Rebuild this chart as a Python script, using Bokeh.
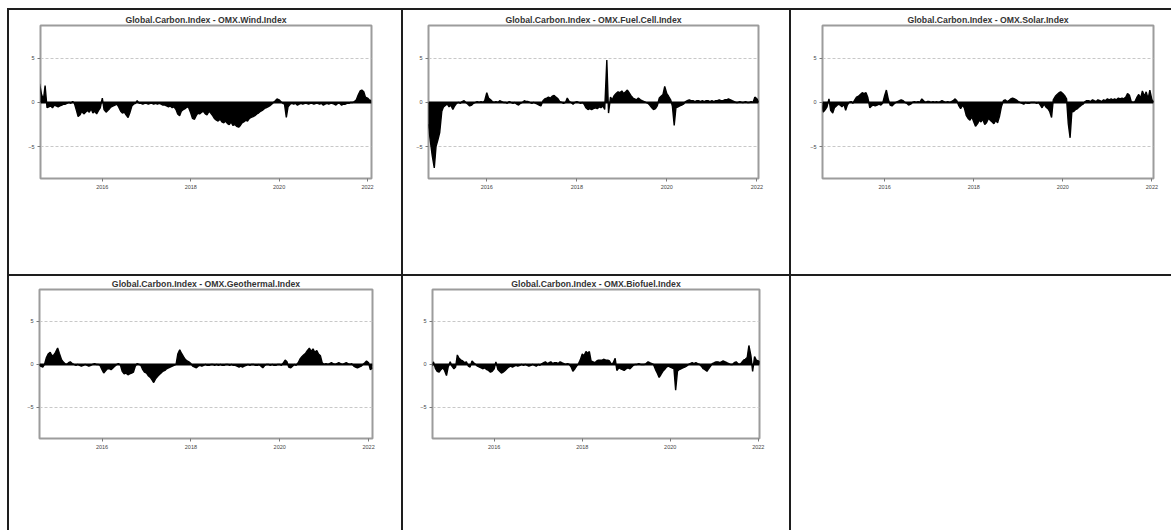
import pandas as pd
from bokeh.embed import file_html
from bokeh.layouts import column, row
from bokeh.models import (ColumnDataSource, DatetimeTickFormatter, Div, FixedTicker,
                          Range1d, Spacer, Span)
from bokeh.plotting import figure
from bokeh.resources import INLINE

# ---------------------------------------------------------------- data
# semi-monthly observations (1st and 15th of each month)
DATES = pd.date_range("2014-08-01", periods=181, freq="SMS")

TITLES = [
    "Global.Carbon.Index - OMX.Wind.Index",
    "Global.Carbon.Index - OMX.Fuel.Cell.Index",
    "Global.Carbon.Index - OMX.Solar.Index",
    "Global.Carbon.Index - OMX.Geothermal.Index",
    "Global.Carbon.Index - OMX.Biofuel.Index",
]

TICK_YEARS = [2016, 2018, 2020, 2022]
Y_TICKS = [-5, 0, 5]

WIND = [
    2.1, 1.0, 0.3, 1.9, -0.6, -0.5, -0.4, -0.6, -0.3, -0.4,
    -0.5, -0.4, -0.3, -0.2, -0.2, -0.1, 0.0, -0.1, 0.1, -0.1, -0.9, -1.6,
    -1.4, -1.0, -1.3, -1.1, -0.9, -1.1, -0.7, -1.2, -1.0, -1.3, -0.9, -0.6,
    0.5, -0.8, -1.1, -0.9, -0.7, -0.5, -0.4, -0.3, -0.2, -0.5, -1.0, -1.2,
    -1.1, -1.4, -1.7, -1.2, -0.4, -0.2, -0.1, 0.2, -0.1, -0.1, -0.2, -0.1,
    -0.1, -0.2, -0.1, -0.1, -0.2, -0.1, -0.2, -0.1, -0.2, -0.3, -0.3, -0.4,
    -0.5, -0.4, -0.6, -0.5, -0.8, -1.3, -1.5, -1.0, -0.8, -0.7, -0.5, -0.6,
    -1.2, -1.8, -1.9, -1.5, -1.2, -1.3, -1.1, -1.0, -1.3, -1.4, -1.0, -1.2,
    -1.5, -1.8, -2.0, -2.1, -1.9, -2.2, -2.3, -2.1, -2.4, -2.5, -2.2, -2.6,
    -2.5, -2.7, -2.8, -2.6, -2.3, -2.2, -2.0, -2.1, -1.8, -1.7, -1.6, -1.5,
    -1.3, -1.2, -1.0, -0.9, -0.7, -0.6, -0.5, -0.4, -0.2, 0.0, 0.2, 0.4,
    0.3, 0.1, -0.1, -0.2, -1.7, -0.5, -0.2, -0.1, -0.2, -0.1, -0.3, -0.2,
    -0.1, -0.2, -0.1, -0.1, -0.2, -0.1, -0.1, -0.2, -0.1, -0.1, -0.2, -0.1,
    -0.3, -0.2, -0.1, -0.2, -0.1, -0.1, -0.2, -0.3, -0.1, -0.1, -0.3, -0.2,
    -0.2, -0.1, -0.1, 0.0, 0.0, 0.1, 0.3, 0.8, 1.3, 1.4, 1.2, 0.6,
    0.5, 0.3, 0.2,
]

FUEL_CELL = [
    -1.5, -2.0, -2.4, -2.6, -4.5, -6.0, -7.4, -5.0, -4.2, -3.4,
    -1.0, -0.5, -0.3, -0.2, -0.5, -0.3, -0.8, -0.4, -0.1, 0.0, -0.1, 0.1,
    0.2, 0.0, -0.2, -0.4, -0.3, -0.1, 0.0, 0.1, 0.0, 0.1, 0.0, 0.2,
    1.1, 0.5, 0.3, 0.1, 0.0, 0.1, 0.0, 0.2, 0.1, 0.0, 0.0, -0.1,
    0.1, 0.0, -0.1, 0.0, -0.2, -0.3, -0.1, 0.0, 0.2, 0.1, 0.1, 0.0,
    -0.1, 0.0, -0.1, -0.2, -0.3, -0.4, 0.2, 0.4, 0.5, 0.6, 0.5, 0.7,
    0.8, 0.6, 0.4, 0.1, 0.0, -0.1, 0.0, 0.5, 0.1, 0.0, -0.2, 0.0,
    0.1, 0.0, -0.1, 0.0, -0.2, -0.6, -0.8, -0.7, -0.8, -0.7, -0.6, -0.7,
    -0.5, -0.6, -0.4, -0.8, 4.8, -1.2, 0.6, 0.3, 0.8, 1.0, 1.2, 1.1,
    1.3, 1.0, 1.2, 1.4, 1.1, 0.8, 0.5, 0.4, 0.3, 0.5, 0.3, 0.2,
    0.1, 0.0, -0.1, -0.3, -0.6, -0.8, -0.7, -0.4, 0.5, 0.7, 0.9, 1.8,
    1.0, 0.7, 0.3, -0.4, -2.6, -0.6, -0.5, -0.4, -0.3, -0.2, 0.1, 0.2,
    0.3, 0.2, 0.2, 0.1, 0.2, 0.2, 0.1, 0.2, 0.1, 0.2, 0.2, 0.1,
    0.2, 0.1, 0.2, 0.2, 0.3, 0.2, 0.2, 0.3, 0.3, 0.4, 0.3, 0.2,
    0.1, 0.0, 0.0, 0.1, 0.0, 0.0, 0.1, 0.0, 0.0, 0.1, 0.0, 0.6,
    0.4, 0.1, 0.0,
]

SOLAR = [
    -0.3, -1.1, -0.8, -0.5, 0.4, -0.9, -1.2, -0.6, -0.4, -0.2,
    -0.3, -0.5, -0.2, -0.9, -0.3, 0.0, 0.1, -0.1, 0.3, 0.6, 0.7, 0.9,
    1.1, 1.0, 1.1, 0.6, -0.6, -0.4, -0.3, -0.4, -0.3, -0.2, -0.3, -0.1,
    0.8, 1.4, 0.3, -0.3, -0.4, -0.2, 0.0, 0.1, 0.2, 0.3, 0.2, 0.0,
    -0.1, -0.3, -0.2, 0.0, 0.1, 0.0, 0.1, 0.0, 0.4, 0.2, 0.0, 0.1,
    0.1, 0.0, 0.1, 0.0, 0.1, 0.0, 0.1, 0.2, 0.1, 0.0, 0.1, 0.0,
    0.1, 0.2, 0.4, 0.2, -0.4, -0.7, -0.3, -0.6, -1.5, -1.8, -2.0, -1.6,
    -2.2, -2.7, -2.4, -2.0, -2.2, -1.9, -2.5, -2.3, -1.8, -2.0, -2.2, -2.4,
    -2.0, -2.3, -1.5, -0.5, 0.2, 0.3, 0.1, 0.2, 0.4, 0.5, 0.4, 0.3,
    0.1, 0.0, -0.1, -0.2, 0.0, -0.1, -0.1, 0.0, 0.0, 0.0, -0.1, 0.0,
    -0.3, -0.6, -0.2, -0.5, -0.7, -1.0, -1.7, 0.3, 0.7, 0.9, 1.1, 1.2,
    1.0, 0.8, 0.4, -2.4, -4.0, -1.1, -1.0, -0.8, -0.7, -0.5, -0.3, -0.2,
    0.1, 0.2, 0.2, 0.1, 0.3, 0.2, 0.1, 0.3, 0.2, 0.1, 0.3, 0.2,
    0.4, 0.3, 0.4, 0.3, 0.4, 0.3, 0.5, 0.4, 0.5, 0.4, 0.6, 1.0,
    0.8, 0.1, 0.0, 0.1, 0.6, 0.9, 0.5, 1.3, 0.7, 1.2, 0.4, 1.4,
    0.3, 0.1, 0.0,
]

GEOTHERMAL = [
    0.0, -0.2, -0.3, 0.0, 0.8, 1.2, 1.4, 1.0, 1.1, 1.4,
    1.9, 1.3, 0.6, 0.3, 0.1, 0.0, 0.2, 0.3, 0.1, 0.0, -0.1, 0.0,
    -0.1, -0.2, -0.1, 0.0, -0.1, -0.2, -0.1, 0.0, 0.1, 0.0, 0.0, -0.1,
    -0.6, -1.0, -0.7, -0.5, -0.5, -0.6, -0.4, -0.2, 0.0, 0.1, -0.1, -0.8,
    -1.1, -1.0, -1.2, -1.1, -1.0, -0.9, -0.2, 0.1, 0.0, -0.1, -0.6, -0.9,
    -1.0, -1.3, -1.5, -1.8, -2.1, -1.7, -1.4, -1.2, -1.0, -0.8, -0.7, -0.5,
    -0.4, -0.3, -0.2, -0.1, 0.0, 1.2, 1.7, 1.3, 0.9, 0.6, 0.4, 0.3,
    0.1, -0.2, -0.3, -0.4, -0.2, -0.1, -0.2, -0.1, 0.0, -0.1, -0.1, 0.0,
    0.0, -0.1, 0.0, -0.1, 0.0, -0.1, -0.1, 0.0, 0.0, -0.1, 0.0, -0.1,
    -0.1, -0.2, -0.3, -0.2, -0.3, -0.2, -0.1, 0.0, -0.1, 0.0, 0.0, -0.1,
    -0.1, 0.0, -0.2, -0.4, -0.1, 0.0, 0.0, -0.1, 0.0, -0.1, -0.1, 0.0,
    0.0, -0.1, 0.2, 0.5, 0.3, -0.3, -0.4, -0.2, 0.0, -0.1, 0.2, 0.6,
    0.9, 1.1, 1.3, 1.6, 1.9, 1.5, 1.8, 1.4, 1.6, 1.2, 1.0, 0.2,
    0.0, 0.1, 0.0, 0.1, 0.2, 0.1, 0.0, 0.1, 0.2, 0.1, 0.0, 0.1,
    0.2, 0.1, 0.0, 0.1, -0.2, -0.3, -0.4, -0.3, -0.2, 0.0, 0.2, 0.4,
    0.2, -0.6, -0.4,
]

BIOFUEL = [
    -0.2, 0.3, -0.5, -0.8, -0.9, -0.6, -0.4, -0.7, -1.3, -0.3,
    0.3, -0.2, -0.5, -0.3, 1.1, 0.7, 0.5, 0.4, 0.2, 0.3, -0.2, -0.3,
    0.4, 0.2, 0.0, -0.2, -0.3, -0.4, -0.5, -0.4, -0.6, -0.7, -0.9, -0.8,
    -0.5, 0.3, -0.6, -0.8, -1.0, -0.9, -0.7, -0.5, -0.3, -0.2, -0.3, -0.2,
    -0.1, -0.2, -0.1, 0.0, -0.1, 0.0, -0.1, -0.2, -0.1, 0.0, -0.1, -0.2,
    0.0, -0.1, 0.1, 0.2, 0.3, 0.1, 0.2, 0.3, 0.1, 0.2, 0.2, 0.1,
    0.3, 0.2, 0.1, 0.0, 0.1, 0.0, -0.3, -0.8, -0.5, -0.2, 0.1, 0.5,
    1.2, 1.0, 1.5, 1.3, 1.5, 0.4, 0.3, 0.2, 0.4, 0.5, 0.5, 0.5,
    0.6, 0.5, 0.5, 0.4, 0.0, 0.2, 0.7, -0.7, -0.4, -0.5, -0.6, -0.7,
    -0.5, -0.4, -0.5, -0.3, -0.1, 0.0, 0.0, 0.1, 0.0, 0.0, 0.0, 0.1,
    0.3, 0.2, 0.1, 0.0, -0.6, -1.0, -1.5, -1.2, -0.8, -0.6, -0.3, -0.2,
    -0.3, -0.4, -0.5, -3.0, -0.8, -0.6, -0.5, -0.4, -0.3, -0.2, 0.0, 0.1,
    0.2, 0.1, 0.2, 0.1, 0.0, -0.2, -0.5, -0.6, -0.8, -0.5, -0.2, 0.1,
    0.2, 0.3, 0.3, 0.2, 0.3, 0.4, 0.3, 0.2, 0.1, 0.0, 0.0, 0.2,
    0.3, 0.1, 0.0, 0.2, 0.5, 0.6, 0.8, 2.2, 1.0, -0.8, 0.9, 0.5,
    0.4, 0.3, 0.4,
]

SERIES = [WIND, FUEL_CELL, SOLAR, GEOTHERMAL, BIOFUEL]
X_START = ["2014-08-08", "2014-09-15", "2014-08-09", "2014-08-05", "2014-08-07"]
X_END = ["2022-02-03", "2022-01-14", "2022-01-14", "2022-02-02", "2022-01-11"]
Y_LIMITS = (-8.6, 8.7)

# ---------------------------------------------------------------- styling
FONT = "Liberation Sans"
RULE = "#1e1e1e"

# canvas size and (left, right, top, bottom) borders of each panel
SIZES = [(392, 264), (386, 264), (380, 264), (392, 254), (386, 254)]
BORDERS = [(31, 30, 15, 92), (25, 31, 15, 92), (31, 18, 13, 96),
           (30, 29, 13, 86), (29, 30, 9, 92)]


def ms(ts):
    return pd.Timestamp(ts).value / 1e6


def spread_panel(title, values, start, end, size, borders):
    width, height = size
    left, right, top, bottom = borders
    p = figure(width=width, height=height, x_axis_type="datetime",
               x_range=Range1d(ms(start), ms(end)),
               y_range=Range1d(*Y_LIMITS),
               toolbar_location=None, output_backend="svg",
               min_border_left=left, min_border_right=right,
               min_border_top=top, min_border_bottom=bottom,
               background_fill_color="white", border_fill_color="white")

    p.title.text = title
    p.title.align = "center"
    p.title.text_font = FONT
    p.title.text_font_style = "bold"
    p.title.text_font_size = "8.7px"
    p.title.text_color = "#333333"
    p.title.standoff = 1
    p.title.offset = 0

    src = ColumnDataSource(dict(date=DATES, v=values))
    p.varea(x="date", y1=0, y2="v", source=src, fill_color="black")
    p.line(x="date", y="v", source=src, line_color="black", line_width=1.4)
    p.add_layout(Span(location=0, dimension="width",
                      line_color="black", line_width=2))

    p.outline_line_color = "#9c9c9c"
    p.outline_line_width = 2

    p.xgrid.visible = False
    p.ygrid.ticker = FixedTicker(ticks=Y_TICKS)
    p.ygrid.grid_line_color = "#c8c8c8"
    p.ygrid.grid_line_dash = "3 2"
    p.ygrid.grid_line_width = 1

    xa = p.xaxis[0]
    xa.ticker = FixedTicker(ticks=[ms(f"{y}-01-01") for y in TICK_YEARS])
    xa.formatter = DatetimeTickFormatter(
        milliseconds="%Y", seconds="%Y", minsec="%Y", minutes="%Y",
        hourmin="%Y", hours="%Y", days="%Y", months="%Y", years="%Y")
    ya = p.yaxis[0]
    ya.ticker = FixedTicker(ticks=Y_TICKS)
    for ax in (xa, ya):
        ax.axis_line_color = None
        ax.major_tick_line_color = "#7a7a7a"
        ax.major_tick_in = 0
        ax.major_tick_out = 3
        ax.minor_tick_line_color = None
        ax.major_label_text_font = FONT
        ax.major_label_text_font_size = "5.5px"
        ax.major_label_text_color = "#444444"
        ax.major_label_standoff = 3
    return p


panels = [spread_panel(TITLES[i], SERIES[i], X_START[i], X_END[i],
                       SIZES[i], BORDERS[i]) for i in range(5)]


def rule(w, h):
    return Div(width=w, height=h, margin=0,
               styles={"background-color": RULE})


def gap(w, h):
    return Spacer(width=w, height=h, margin=0)


layout = column(
    gap(1171, 8),
    row(gap(7, 2), rule(1164, 2), spacing=0),
    row(gap(7, 264), rule(2, 264), panels[0], rule(2, 264), panels[1],
        rule(2, 264), panels[2], spacing=0),
    row(gap(7, 2), rule(1164, 2), spacing=0),
    row(gap(7, 254), rule(2, 254), panels[3], rule(2, 254), panels[4],
        rule(2, 254), gap(380, 254), spacing=0),
    spacing=0,
)

open("out.html", "w").write(file_html(layout, INLINE, title="Spread charts"))
